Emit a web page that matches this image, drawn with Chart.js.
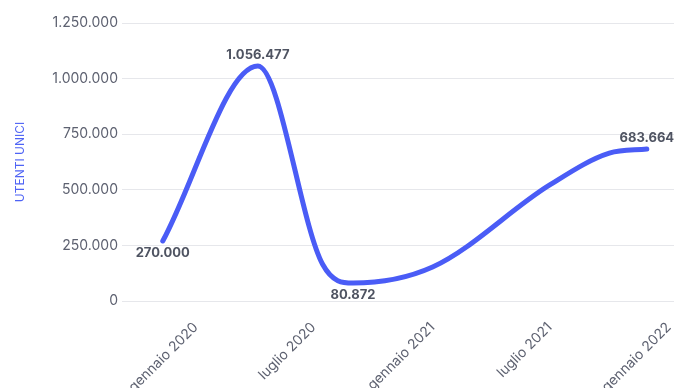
<!DOCTYPE html>
<html lang="it">
<head>
<meta charset="utf-8">
<title>Utenti unici</title>
<script src="https://cdn.jsdelivr.net/npm/chart.js@4.4.1/dist/chart.umd.min.js"></script>
<style>
  html, body { margin: 0; padding: 0; background: #ffffff; }
  #wrap { width: 678px; height: 388px; }
</style>
</head>
<body>
<div id="wrap"><canvas id="users-chart" width="678" height="388"></canvas></div>
<script>
// Unique users over time (dates of each reading)
const pointDates = ['2019-11-11', '2020-04-06', '2020-07-15', '2020-08-31', '2021-01-01', '2021-07-01', '2021-10-01', '2021-11-28'];
const uniqueUsers = [270000, 1056477, 165000, 80872, 153000, 522000, 665000, 683664];

// x axis: half-year ticks
const tickDates = ['2020-01-01', '2020-07-01', '2021-01-01', '2021-07-01', '2022-01-01'];
const tickLabels = ['gennaio 2020', 'luglio 2020', 'gennaio 2021', 'luglio 2021', 'gennaio 2022'];
const axisRange = ['2019-09-09', '2022-01-09'];

const DAY = 86400000;
const origin = Date.UTC(2020, 0, 1);
const toDay = s => {
    const [y, m, d] = s.split('-').map(Number);
    return (Date.UTC(y, m - 1, d) - origin) / DAY;
};

const fmt = v => String(Math.round(v)).replace(/\B(?=(\d{3})+(?!\d))/g, '.');

const points = pointDates.map((d, i) => ({ x: toDay(d), y: uniqueUsers[i] }));
const tickDays = tickDates.map(toDay);

const FONT = 'Inter, "Noto Sans", sans-serif';

// label first, last, highest and lowest values
const labelPlugin = {
    id: 'pointLabels',
    afterDatasetsDraw(chart) {
        const meta = chart.getDatasetMeta(0);
        const vals = uniqueUsers;
        const last = vals.length - 1;
        const maxI = vals.indexOf(Math.max(...vals));
        const minI = vals.indexOf(Math.min(...vals));
        const below = new Set([0, minI]);
        const ctx = chart.ctx;
        ctx.save();
        ctx.font = 'bold 13px ' + FONT;
        ctx.fillStyle = '#4f5462';
        ctx.textAlign = 'center';
        ctx.textBaseline = 'middle';
        [...new Set([0, maxI, minI, last])].forEach(i => {
            const el = meta.data[i];
            const dy = below.has(i) ? 12 : -11;
            ctx.fillText(fmt(vals[i]), el.x, el.y + dy);
        });
        ctx.restore();
    }
};

new Chart(document.getElementById('users-chart'), {
    type: 'line',
    data: {
        datasets: [{
            data: points,
            borderColor: '#4a5cf6',
            borderWidth: 5,
            borderCapStyle: 'round',
            pointRadius: 0,
            pointHoverRadius: 0,
            cubicInterpolationMode: 'monotone',
            fill: false
        }]
    },
    options: {
        responsive: false,
        animation: false,
        layout: { padding: { top: 23, left: 9, right: 4, bottom: 0 } },
        plugins: { legend: { display: false }, tooltip: { enabled: false } },
        scales: {
            x: {
                type: 'linear',
                min: toDay(axisRange[0]),
                max: toDay(axisRange[1]),
                afterBuildTicks: scale => {
                    scale.ticks = tickDays.map(v => ({ value: v }));
                },
                afterFit: scale => {
                    scale.height = 87;
                    scale.paddingLeft = 0;
                    scale.paddingRight = 0;
                },
                grid: { display: false },
                border: { display: false },
                ticks: {
                    autoSkip: false,
                    minRotation: 45,
                    maxRotation: 45,
                    padding: 10,
                    color: '#5d6170',
                    font: { family: FONT, size: 14 },
                    callback: v => tickLabels[tickDays.indexOf(v)]
                }
            },
            y: {
                min: 0,
                max: 1250000,
                afterFit: scale => { scale.width = 113; },
                grid: { color: '#e6e7eb', drawTicks: false },
                border: { display: false },
                ticks: {
                    stepSize: 250000,
                    padding: 4,
                    color: '#5d6170',
                    font: { family: FONT, size: 14 },
                    callback: v => fmt(v)
                },
                title: {
                    display: true,
                    text: 'UTENTI UNICI',
                    color: '#4e63f5',
                    font: { family: FONT, size: 12 }
                }
            }
        }
    },
    plugins: [labelPlugin]
});
</script>
</body>
</html>
